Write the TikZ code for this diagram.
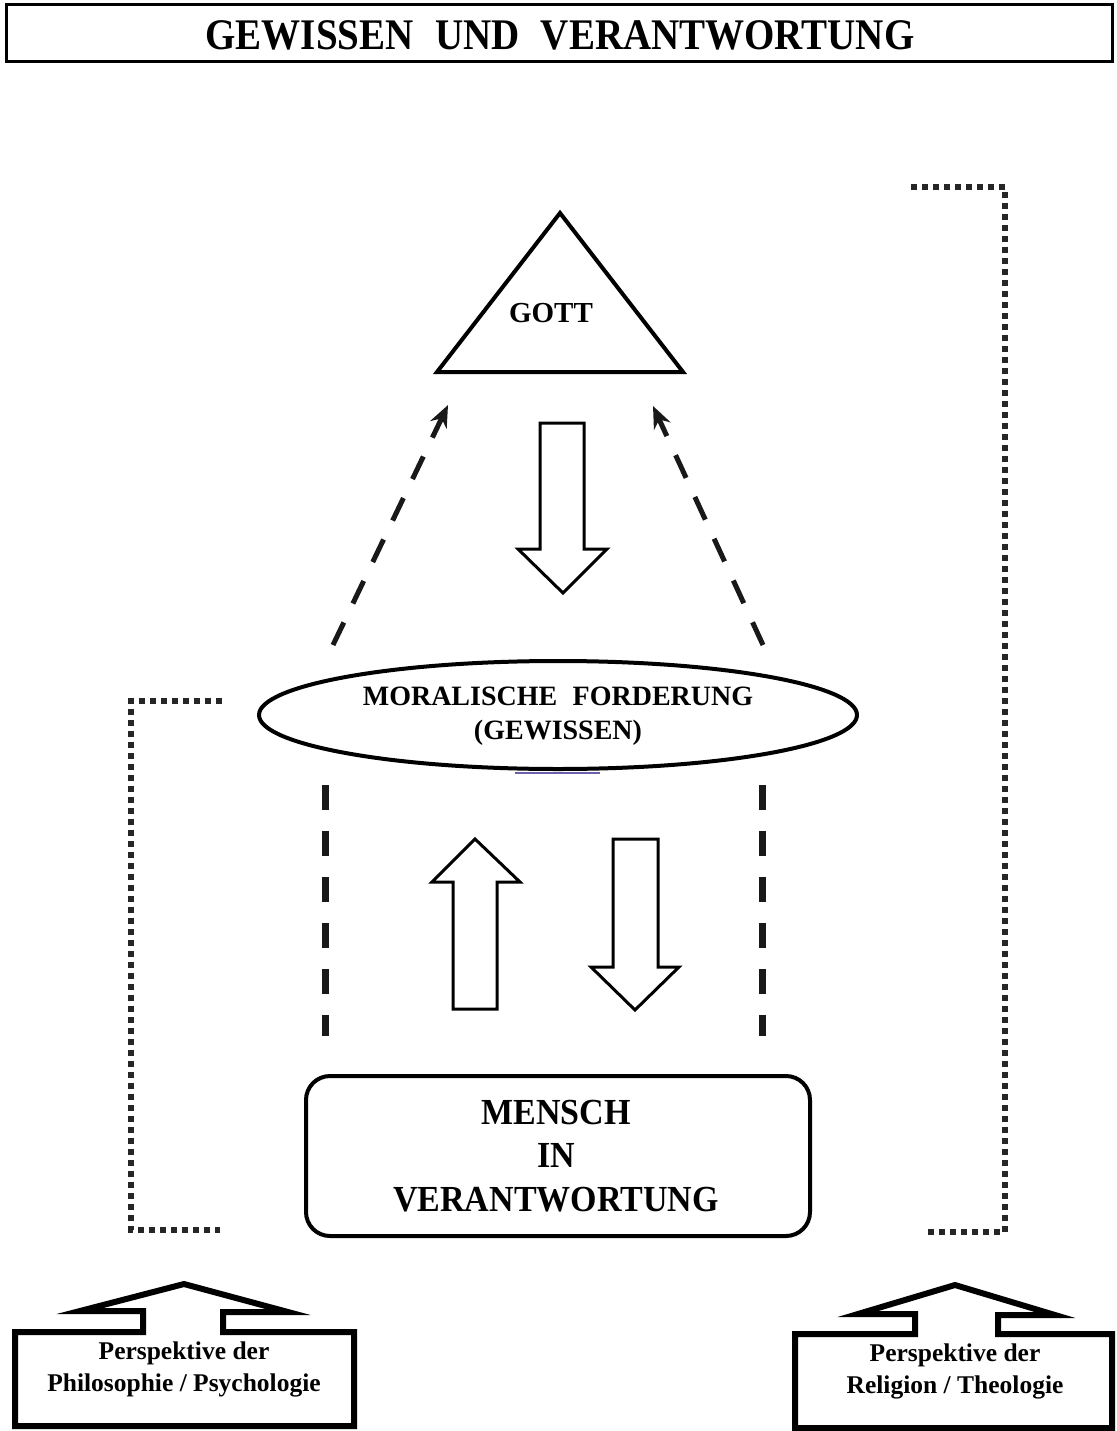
\documentclass[tikz,border=0pt]{standalone}
\usepackage{fontspec}
\setmainfont{Liberation Serif}
\usetikzlibrary{arrows.meta,shapes.geometric}
\tikzset{
  outl/.style={draw=black, line width=3.5pt, line join=miter},
  blockarrow/.style={draw=black, line width=3pt, line join=miter, fill=white},
  persp/.style={draw=black, line width=6pt, line join=miter},
  dotline/.style={draw=black!85, line width=6pt, dash pattern=on 6pt off 5pt},
  dashup/.style={draw=black!90, line width=5pt, dash pattern=on 25pt off 21pt, -{Stealth[length=22pt,width=18pt]}},
  dashvert/.style={draw=black!90, line width=7pt, dash pattern=on 25pt off 21pt},
  lbl/.style={font=\bfseries, align=center, inner sep=0pt}
}
\begin{document}
\begin{tikzpicture}[x=1pt,y=-1pt]
\useasboundingbox[fill=white] (0,0) rectangle (1116,1431);

% title
\draw[line width=3pt] (6,5) rectangle (1112,62);
\node[lbl, font=\fontsize{39}{44}\selectfont\bfseries, yscale=1.12] (title) at (560,35) {GEWISSEN\hspace{0.3em} UND\hspace{0.3em} VERANTWORTUNG};

% triangle GOTT
\coordinate (tA) at (560,213);
\coordinate (tL) at (437,372);
\coordinate (tR) at (683,372);
\draw[outl, line width=4pt] (tA) -- (tL) -- (tR) -- cycle;
\node[lbl, font=\fontsize{29}{32}\selectfont\bfseries] (gott) at (551,313) {GOTT};

% big down arrow under GOTT
\draw[blockarrow] (540,423) -- (584,423) -- (584,549) -- (607,549) -- (563,593) -- (518,549) -- (540,549) -- cycle;

% ellipse
\node[draw, ellipse, line width=4pt, minimum width=598pt, minimum height=108pt, inner sep=0pt] (moral) at (558,715) {};
\node[lbl, font=\fontsize{28}{34}\selectfont\bfseries] (moraltext) at (558,716) {MORALISCHE\hspace{0.3em} FORDERUNG\\(GEWISSEN)};
\draw[draw={rgb,255:red,110;green,95;blue,170}, line width=2pt] (515,773) -- (600,773);

% dashed arrows up to GOTT
\coordinate (dl0) at (333,645);
\coordinate (dl1) at (448,405);
\coordinate (dr0) at (763,645);
\coordinate (dr1) at (653,406);
\draw[dashup] (dl0) -- (dl1);
\draw[dashup] (dr0) -- (dr1);

% vertical dashed lines
\coordinate (vl0) at (325,785);
\coordinate (vl1) at (325,1036);
\coordinate (vr0) at (762,785);
\coordinate (vr1) at (762,1036);
\draw[dashvert] (vl0) -- (vl1);
\draw[dashvert] (vr0) -- (vr1);

% up and down block arrows
\draw[blockarrow] (453,1009) -- (453,882) -- (432,882) -- (475,839) -- (520,882) -- (497,882) -- (497,1009) -- cycle;
\draw[blockarrow] (613,839) -- (658,839) -- (658,967) -- (679,967) -- (635,1010) -- (591,967) -- (613,967) -- cycle;

% Mensch box
\draw[line width=4pt, rounded corners=24pt] (306,1076) rectangle (810,1236);
\node[lbl, font=\fontsize{34}{40}\selectfont\bfseries, yscale=1.08] (mensch) at (556,1156) {MENSCH\\IN\\VERANTWORTUNG};

% dotted brackets
\coordinate (bl0) at (222,701);
\coordinate (bl1) at (131,701);
\coordinate (bl2) at (131,1230);
\coordinate (bl3) at (220,1230);
\draw[dotline] (bl0) -- (bl1) -- (bl2) -- (bl3);
\coordinate (br0) at (911,187);
\coordinate (br1) at (1005,187);
\coordinate (br2) at (1005,1232);
\coordinate (br3) at (928,1232);
\draw[dotline] (br0) -- (br1) -- (br2) -- (br3);

% perspective boxes
\draw[persp] (15,1332) -- (143,1332) -- (143,1311) -- (80,1311) -- (184,1284) -- (288,1312) -- (223,1312) -- (223,1332) -- (354,1332) -- (354,1426) -- (15,1426) -- cycle;
\node[lbl, font=\fontsize{25.5}{32}\selectfont\bfseries] (pphil) at (184,1369) {Perspektive der\\Philosophie / Psychologie};

\draw[persp] (795,1334) -- (915,1334) -- (915,1314) -- (858,1314) -- (955,1285) -- (1055,1315) -- (998,1315) -- (998,1334) -- (1112,1334) -- (1112,1428) -- (795,1428) -- cycle;
\node[lbl, font=\fontsize{25.5}{32}\selectfont\bfseries] (prel) at (955,1371) {Perspektive der\\Religion / Theologie};
\end{tikzpicture}
\end{document}
